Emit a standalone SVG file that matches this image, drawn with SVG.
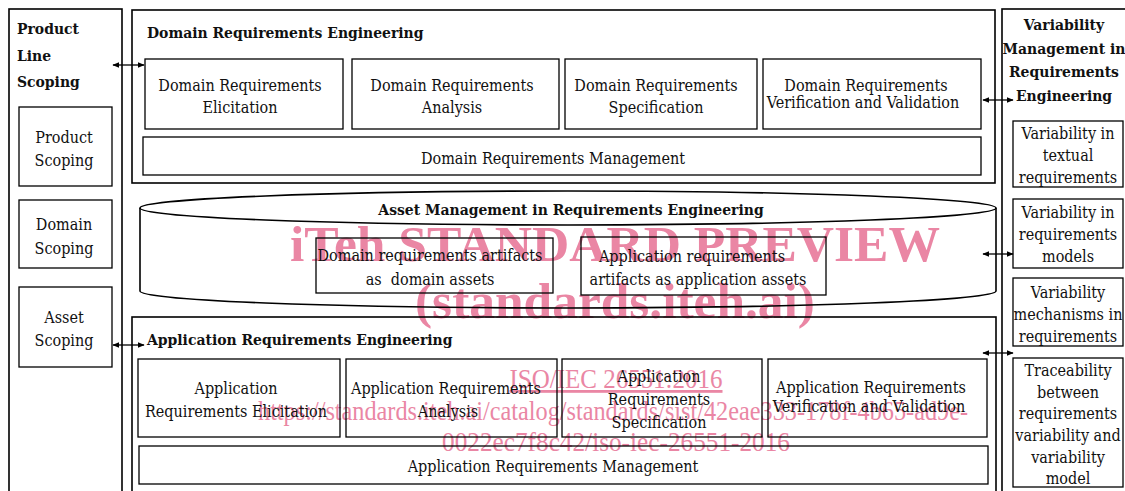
<svg xmlns="http://www.w3.org/2000/svg" width="1125" height="491" viewBox="0 0 1125 491">
  <style>
    .box { fill: none; stroke: #000; stroke-width: 1.3; }
    .frame { fill: none; stroke: #000; stroke-width: 1.6; }
    .t { font-family: "DejaVu Serif Condensed", "DejaVu Serif", "Liberation Serif", serif; font-stretch: condensed; font-size: 16px; fill: #111; text-anchor: middle; }
    .h { font-family: "DejaVu Serif Condensed", "DejaVu Serif", "Liberation Serif", serif; font-stretch: condensed; font-size: 15.5px; font-weight: bold; fill: #111; }
    .hc { text-anchor: middle; }
    .wm { font-family: "Liberation Serif", "DejaVu Serif", serif; fill: #ea86a4; }
    .wmb { font-weight: bold; font-size: 51px; }
    .wms { font-size: 28px; }
    .conn { stroke: #000; stroke-width: 1.3; fill: none; marker-start: url(#ah); marker-end: url(#ah); }
  </style>
  <defs>
    <marker id="ah" viewBox="0 0 10 10" refX="9" refY="5" markerWidth="7" markerHeight="7" markerUnits="userSpaceOnUse" orient="auto-start-reverse">
      <path d="M0,1 L10,5 L0,9 Z" fill="#000"/>
    </marker>
  </defs>

  <rect width="1125" height="491" fill="#fff"/>

  <!-- preview stamp text -->
  <g id="stamp" class="wm">
    <text class="wmb" x="615" y="261" text-anchor="middle" textLength="650" lengthAdjust="spacingAndGlyphs">iTeh STANDARD PREVIEW</text>
    <text class="wmb" x="615" y="318" text-anchor="middle" textLength="400" lengthAdjust="spacingAndGlyphs">(standards.iteh.ai)</text>
    <text class="wms" x="616" y="388" text-anchor="middle" textLength="213" lengthAdjust="spacingAndGlyphs" text-decoration="underline">ISO/IEC 26551:2016</text>
    <text class="wms" x="613" y="420" text-anchor="middle" textLength="710" lengthAdjust="spacingAndGlyphs">https://standards.iteh.ai/catalog/standards/sist/42eae333-178f-4b65-ad9e-</text>
    <text class="wms" x="616" y="451" text-anchor="middle" textLength="348" lengthAdjust="spacingAndGlyphs">0022ec7f8c42/iso-iec-26551-2016</text>
  </g>

  <!-- Product Line Scoping column -->
  <g id="product-line-scoping">
    <rect class="frame" x="9" y="9" width="113" height="500"/>
    <text class="h" x="17" y="34">Product</text>
    <text class="h" x="17" y="61">Line</text>
    <text class="h" x="17" y="87">Scoping</text>
  </g>
  <g id="product-scoping">
    <rect class="box" x="19" y="107" width="93" height="79"/>
    <text class="t" x="64" y="143">Product</text>
    <text class="t" x="64" y="166">Scoping</text>
  </g>
  <g id="domain-scoping">
    <rect class="box" x="19" y="200" width="93" height="68"/>
    <text class="t" x="64" y="230">Domain</text>
    <text class="t" x="64" y="254">Scoping</text>
  </g>
  <g id="asset-scoping">
    <rect class="box" x="19" y="287" width="93" height="80"/>
    <text class="t" x="64" y="323">Asset</text>
    <text class="t" x="64" y="346">Scoping</text>
  </g>

  <!-- Domain Requirements Engineering -->
  <g id="domain-re">
    <rect class="frame" x="132" y="10" width="863" height="173"/>
    <text class="h" x="147" y="38">Domain Requirements Engineering</text>
  </g>
  <g id="domain-elicitation">
    <rect class="box" x="145" y="59" width="198" height="70"/>
    <text class="t" x="240" y="91">Domain Requirements</text>
    <text class="t" x="240" y="113">Elicitation</text>
  </g>
  <g id="domain-analysis">
    <rect class="box" x="352" y="59" width="207" height="70"/>
    <text class="t" x="452" y="91">Domain Requirements</text>
    <text class="t" x="452" y="113">Analysis</text>
  </g>
  <g id="domain-specification">
    <rect class="box" x="565" y="59" width="192" height="70"/>
    <text class="t" x="656" y="91">Domain Requirements</text>
    <text class="t" x="656" y="113">Specification</text>
  </g>
  <g id="domain-vv">
    <rect class="box" x="763" y="59" width="218" height="70"/>
    <text class="t" x="866" y="91">Domain Requirements</text>
    <text class="t" x="863" y="108">Verification and Validation</text>
  </g>
  <g id="domain-management">
    <rect class="box" x="143" y="137" width="838" height="38"/>
    <text class="t" x="553" y="164">Domain Requirements Management</text>
  </g>

  <!-- Asset Management repository -->
  <g id="asset-management">
    <path class="frame" d="M140,208 A428,17 0 0 1 996,208 L996,291 A428,17 0 0 1 140,291 Z"/>
    <path class="frame" d="M140,208 A428,17 0 0 0 996,208"/>
    <text class="h hc" x="571" y="215">Asset Management in Requirements Engineering</text>
  </g>
  <g id="domain-assets">
    <rect class="box" x="316" y="238" width="237" height="55"/>
    <text class="t" x="430" y="261">Domain requirements artifacts</text>
    <text class="t" x="430" y="285" xml:space="preserve">as  domain assets</text>
  </g>
  <g id="application-assets">
    <rect class="box" x="581" y="237" width="245" height="58"/>
    <text class="t" x="692" y="262">Application requirements</text>
    <text class="t" x="698" y="285">artifacts as application assets</text>
  </g>

  <!-- Application Requirements Engineering -->
  <g id="application-re">
    <rect class="frame" x="132" y="317" width="864" height="200"/>
    <text class="h" x="147" y="345">Application Requirements Engineering</text>
  </g>
  <g id="app-elicitation">
    <rect class="box" x="138" y="359" width="202" height="78"/>
    <text class="t" x="236" y="394">Application</text>
    <text class="t" x="236" y="417">Requirements Elicitation</text>
  </g>
  <g id="app-analysis">
    <rect class="box" x="346" y="359" width="211" height="78"/>
    <text class="t" x="446" y="394">Application Requirements</text>
    <text class="t" x="448" y="417">Analysis</text>
  </g>
  <g id="app-specification">
    <rect class="box" x="562" y="359" width="200" height="78"/>
    <text class="t" x="659" y="382">Application</text>
    <text class="t" x="659" y="405">Requirements</text>
    <text class="t" x="659" y="428">Specification</text>
  </g>
  <g id="app-vv">
    <rect class="box" x="768" y="359" width="219" height="78"/>
    <text class="t" x="871" y="393">Application Requirements</text>
    <text class="t" x="869" y="412">Verification and Validation</text>
  </g>
  <g id="app-management">
    <rect class="box" x="139" y="446" width="849" height="38"/>
    <text class="t" x="553" y="472">Application Requirements Management</text>
  </g>

  <!-- Variability Management column -->
  <g id="variability-management">
    <rect class="frame" x="1002" y="9" width="130" height="500"/>
    <text class="h hc" x="1064" y="30">Variability</text>
    <text class="h hc" x="1064" y="54">Management in</text>
    <text class="h hc" x="1064" y="77">Requirements</text>
    <text class="h hc" x="1064" y="101">Engineering</text>
  </g>
  <g id="var-textual">
    <rect class="box" x="1013" y="121" width="110" height="66"/>
    <text class="t" x="1068" y="139">Variability in</text>
    <text class="t" x="1068" y="161">textual</text>
    <text class="t" x="1068" y="183">requirements</text>
  </g>
  <g id="var-models">
    <rect class="box" x="1013" y="199" width="110" height="69"/>
    <text class="t" x="1068" y="218">Variability in</text>
    <text class="t" x="1068" y="240">requirements</text>
    <text class="t" x="1068" y="262">models</text>
  </g>
  <g id="var-mechanisms">
    <rect class="box" x="1013" y="278" width="110" height="68"/>
    <text class="t" x="1068" y="298">Variability</text>
    <text class="t" x="1068" y="320">mechanisms in</text>
    <text class="t" x="1068" y="342">requirements</text>
  </g>
  <g id="var-traceability">
    <rect class="box" x="1013" y="358" width="110" height="129"/>
    <text class="t" x="1068" y="376">Traceability</text>
    <text class="t" x="1068" y="398">between</text>
    <text class="t" x="1068" y="419">requirements</text>
    <text class="t" x="1068" y="441">variability and</text>
    <text class="t" x="1068" y="463">variability</text>
    <text class="t" x="1068" y="484">model</text>
  </g>

  <!-- connectors -->
  <g id="connectors">
    <line class="conn" x1="113" y1="65" x2="144" y2="65"/>
    <line class="conn" x1="113" y1="345" x2="144" y2="345"/>
    <line class="conn" x1="983" y1="100" x2="1013" y2="100"/>
    <line class="conn" x1="983" y1="254" x2="1013" y2="254"/>
    <line class="conn" x1="983" y1="353" x2="1013" y2="353"/>
  </g>
</svg>
